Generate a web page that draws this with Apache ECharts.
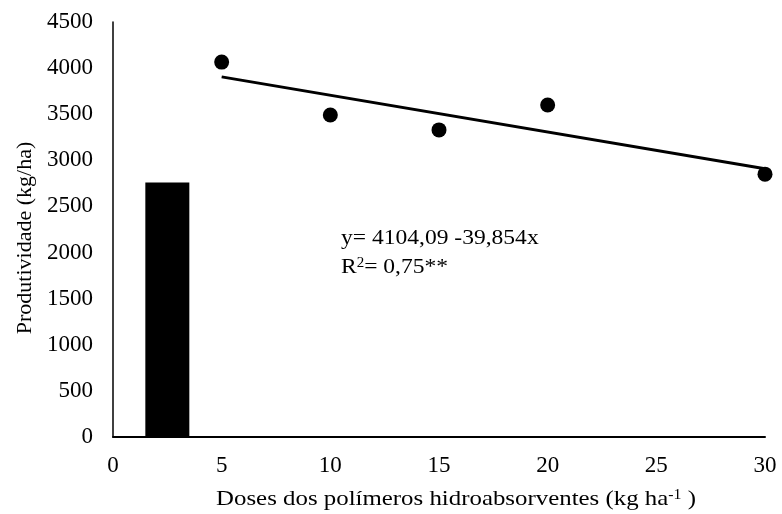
<!DOCTYPE html>
<html><head><meta charset="utf-8">
<script src="https://cdn.jsdelivr.net/npm/echarts@6/dist/echarts.min.js"></script>
<style>html,body{margin:0;padding:0;background:#fff}#c{width:782px;height:514px}</style>
</head><body><div id="c"></div>
<script>
const doses = [5, 10, 15, 20, 30];
const produtividade = [4065, 3492, 3330, 3600, 2850];
const controlX = [2.5];
const controlValue = [2760];
const trendX = [5, 30];
const trendY = [3905, 2909];
const equationText = 'y= 4104,09 -39,854x';
const r2Text = '= 0,75**';
const xTitle = 'Doses dos polímeros hidroabsorventes (kg ha';
const yTitle = 'Produtividade (kg/ha)';

const FONT = 'Liberation Serif';
const rich = {
  n: {fontFamily: FONT, fontSize: 22, color: '#000'},
  s: {fontFamily: FONT, fontSize: 14, color: '#000', verticalAlign: 'top', padding: [0, 0, 0, 0]}
};
const chart = echarts.init(document.getElementById('c'), null, {renderer: 'canvas'});
chart.setOption({
  animation: false,
  backgroundColor: '#fff',
  textStyle: {fontFamily: FONT, color: '#000'},
  grid: {left: 113, right: 17, top: 22, bottom: 77},
  xAxis: {
    type: 'value', min: 0, max: 30, interval: 5,
    axisLine: {show: true, lineStyle: {color: '#000', width: 2}},
    axisTick: {show: false}, splitLine: {show: false},
    axisLabel: {fontFamily: FONT, fontSize: 23, color: '#000', margin: 17}
  },
  yAxis: {
    type: 'value', min: 0, max: 4500, interval: 500,
    axisLine: {show: true, lineStyle: {color: '#000', width: 1.5}},
    axisTick: {show: false}, splitLine: {show: false},
    axisLabel: {fontFamily: FONT, fontSize: 23, color: '#000', margin: 20,
      formatter: v => String(v)}
  },
  series: [
    {
      type: 'bar', data: controlX.map((x, i) => [x, controlValue[i]]),
      barWidth: 44, itemStyle: {color: '#000', opacity: 1}, silent: true
    },
    {
      type: 'line', data: trendX.map((x, i) => [x, trendY[i]]),
      symbol: 'none', lineStyle: {color: '#000', width: 3}, z: 3
    },
    {
      type: 'scatter', data: doses.map((x, i) => [x, produtividade[i]]),
      symbol: 'circle', symbolSize: 15, itemStyle: {color: '#000', opacity: 1}, z: 4
    }
  ],
  graphic: [
    {type: 'text', x: 341, y: 238, scaleX: 1.07, style: {
      text: equationText, font: '22px "Liberation Serif"', fill: '#000',
      align: 'left', verticalAlign: 'middle'}},
    {type: 'text', x: 341, y: 267, scaleX: 1.07, style: {
      text: '{n|R}{s|2}{n|' + r2Text + '}', fill: '#000', rich: rich,
      align: 'left', verticalAlign: 'middle'}},
    {type: 'text', x: 456, y: 499, scaleX: 1.13, style: {
      text: '{n|' + xTitle + '}{s|-1}{n| )}', fill: '#000', rich: rich,
      align: 'center', verticalAlign: 'middle'}},
    {type: 'text', x: 25, y: 238, rotation: Math.PI / 2, style: {
      text: yTitle, font: '22px "Liberation Serif"', fill: '#000',
      align: 'center', verticalAlign: 'middle'}}
  ]
});
</script></body></html>
